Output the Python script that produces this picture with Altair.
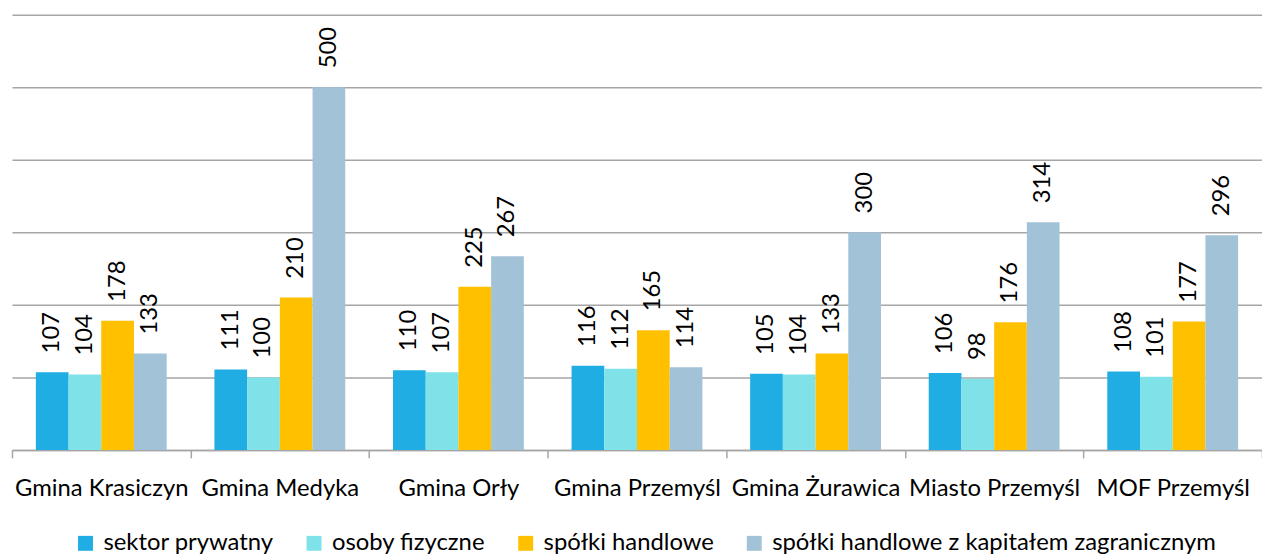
import altair as alt
import pandas as pd

categories = ["Gmina Krasiczyn", "Gmina Medyka", "Gmina Orły", "Gmina Przemyśl",
              "Gmina Żurawica", "Miasto Przemyśl", "MOF Przemyśl"]
series = ["sektor prywatny", "osoby fizyczne", "spółki handlowe",
          "spółki handlowe z kapitałem zagranicznym"]
sektor_prywatny = [107, 111, 110, 116, 105, 106, 108]
osoby_fizyczne = [104, 100, 107, 112, 104, 98, 101]
spolki_handlowe = [178, 210, 225, 165, 133, 176, 177]
spolki_zagraniczne = [133, 500, 267, 114, 300, 314, 296]
colors = ["#1FADE4", "#7FE2E8", "#FFC000", "#A2C2D7"]
grid_values = [0, 100, 200, 300, 400, 500, 600]

rows = []
for s, vals in zip(series, [sektor_prywatny, osoby_fizyczne, spolki_handlowe, spolki_zagraniczne]):
    for c, v in zip(categories, vals):
        rows.append({"gmina": c, "seria": s, "wartosc": v})
df = pd.DataFrame(rows)

FONT = "Lato"
FS = 24

x = alt.X("gmina:N", sort=categories,
          scale=alt.Scale(paddingInner=0, paddingOuter=0),
          axis=alt.Axis(title=None, labelAngle=0, tickBand="extent", grid=False,
                        domainColor="#A6A6A6", domainWidth=1.5, tickColor="#A6A6A6",
                        tickWidth=1.5, tickSize=8, labelFont=FONT, labelFontSize=FS,
                        labelColor="#000000", labelPadding=19, labelLimit=300))
xoff = alt.XOffset("seria:N", sort=series,
                   scale=alt.Scale(paddingOuter=0.73, paddingInner=0))
y = alt.Y("wartosc:Q", scale=alt.Scale(domain=[0, 600], nice=False),
          axis=alt.Axis(title=None, labels=False, ticks=False, domain=False,
                        values=grid_values, grid=True, gridColor="#A6A6A6",
                        gridWidth=1.5))
color = alt.Color("seria:N", sort=series,
                  scale=alt.Scale(domain=series, range=colors),
                  legend=alt.Legend(title=None, orient="none", direction="horizontal",
                                    legendX=62, legendY=520, symbolType="square",
                                    symbolSize=225, symbolStrokeWidth=0,
                                    labelFont=FONT, labelFontSize=FS, labelColor="#000000",
                                    columnPadding=28, labelOffset=6, labelLimit=700))

base = alt.Chart(df)
bars = base.mark_bar().encode(x=x, xOffset=xoff, y=y, color=color)
labels = base.mark_text(angle=270, align="left", baseline="middle", dx=19,
                        font=FONT, fontSize=FS, color="#000000").encode(
    x=alt.X("gmina:N", sort=categories), xOffset=alt.XOffset("seria:N", sort=series),
    y="wartosc:Q", text="wartosc:Q")

chart = (bars + labels).properties(
    width=1258, height=438,
    padding={"top": 5, "left": 4, "right": 0, "bottom": 103},
    autosize=alt.AutoSizeParams(type="none"),
).configure_view(stroke=None)

chart.save("out.html", embed_options={"renderer": "svg", "actions": False})
